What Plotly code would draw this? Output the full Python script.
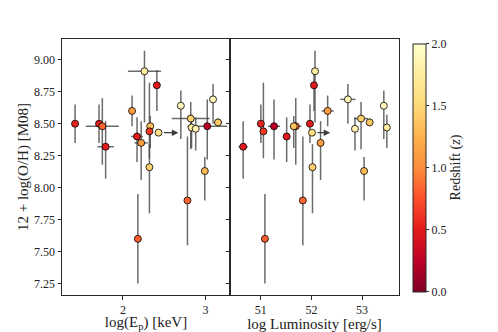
import plotly.graph_objects as go

# ---- data ----
oh      = [8.50, 8.50, 8.48, 8.32, 8.60, 8.91, 8.80, 8.40, 8.35, 8.48, 8.44, 8.16,
           8.43, 7.60, 8.64, 8.54, 8.47, 8.46, 8.48, 8.69, 8.51, 8.13, 7.90]
oh_up   = [0.15, 0.15, 0.22, 0.20, 0.12, 0.16, 0.12, 0.15, 0.17, 0.08, 0.38, 0.18,
           0.00, 0.35, 0.12, 0.13, 0.10, 0.09, 0.21, 0.12, 0.03, 0.11, 0.50]
oh_lo   = [0.15, 0.15, 0.30, 0.25, 0.12, 0.40, 0.20, 0.20, 0.29, 0.17, 0.21, 0.36,
           0.00, 0.35, 0.26, 0.24, 0.16, 0.17, 0.26, 0.19, 0.03, 0.23, 0.35]
redshift = [0.55, 0.50, 0.85, 0.50, 1.10, 1.75, 0.50, 0.50, 1.10, 1.35, 0.65, 1.45,
            1.60, 0.80, 1.90, 1.45, 1.75, 1.85, 0.25, 1.90, 1.40, 1.30, 0.85]
log_ep   = [1.42, 1.71, 1.75, 1.79, 2.11, 2.26, 2.41, 2.17, 2.22, 2.33, 2.32, 2.32,
            2.43, 2.18, 2.70, 2.82, 2.83, 2.88, 3.02, 3.09, 3.15, 2.99, 2.78]
log_ep_err = [0.04, 0.03, 0.20, 0.10, 0.00, 0.20, 0.00, 0.07, 0.08, 0.00, 0.00, 0.00,
              0.00, 0.00, 0.00, 0.23, 0.00, 0.00, 0.24, 0.00, 0.05, 0.00, 0.00]
log_lum  = [51.00, 51.97, 51.69, 50.65, 52.32, 52.07, 52.05, 51.51, 52.18, 51.65, 51.05, 52.02,
            52.01, 51.08, 53.43, 52.98, 53.49, 52.86, 51.26, 52.72, 53.15, 53.04, 51.83]
log_lum_err = [0.03, 0.00, 0.11, 0.09, 0.12, 0.00, 0.00, 0.00, 0.00, 0.05, 0.00, 0.00,
               0.00, 0.00, 0.00, 0.14, 0.05, 0.05, 0.12, 0.15, 0.00, 0.00, 0.00]
# lower limits (arrows) : index and arrow length in each axis
limit_idx = [12]
limit_len_ep = [0.24]
limit_len_lum = [0.36]

y_tickvals = [7.25, 7.50, 7.75, 8.00, 8.25, 8.50, 8.75, 9.00]
ep_ticks = [2, 3]
lum_ticks = [51, 52, 53]
z_ticks = [0, 0.5, 1.0, 1.5, 2.0]

scale = [[0, 'rgb(128,0,38)'], [0.125, 'rgb(189,0,38)'], [0.25, 'rgb(227,26,28)'],
         [0.375, 'rgb(252,78,42)'], [0.5, 'rgb(253,141,60)'], [0.625, 'rgb(254,178,76)'],
         [0.75, 'rgb(254,217,118)'], [0.875, 'rgb(255,237,160)'], [1, 'rgb(255,255,204)']]

FONT = "Liberation Serif"
ERRC = 'rgba(70,70,70,0.8)'
LINEC = 'rgb(40,40,40)'

def trace(x, xerr, xa, ya):
    return go.Scatter(
        x=x, y=oh, xaxis=xa, yaxis=ya, mode='markers',
        marker=dict(color=redshift, coloraxis='coloraxis', size=7,
                    line=dict(color='black', width=0.8)),
        error_y=dict(type='data', array=oh_up, arrayminus=oh_lo, color=ERRC,
                     thickness=1.5, width=0),
        error_x=dict(type='data', array=xerr, color=ERRC, thickness=1.5, width=0),
        showlegend=False, hoverinfo='skip')

fig = go.Figure()
fig.add_trace(trace(log_ep, log_ep_err, 'x', 'y'))
fig.add_trace(trace(log_lum, log_lum_err, 'x2', 'y2'))

for k, i in enumerate(limit_idx):
    for xs, ln, xr, yr in [(log_ep, limit_len_ep, 'x', 'y'), (log_lum, limit_len_lum, 'x2', 'y2')]:
        fig.add_annotation(x=xs[i] + ln[k], y=oh[i], ax=xs[i], ay=oh[i],
                           xref=xr, yref=yr, axref=xr, ayref=yr, text='',
                           showarrow=True, arrowhead=2, arrowsize=1, arrowwidth=1.3,
                           arrowcolor='rgb(60,60,60)', startstandoff=4)

# page has an 8px body margin -> lay out in shifted coordinates
OFF = 8
W, H = 498 - OFF, 332 - OFF
L, R, T, B = 62 - OFF, 399 - OFF, 39 - OFF, 295 - OFF
PW, PH = R - L, B - T
xsplit = (230 - 62) / PW

axis_common = dict(showline=True, linecolor=LINEC, linewidth=1, mirror=True,
                   ticks='outside', ticklen=3.5, tickcolor=LINEC, showgrid=False,
                   zeroline=False, automargin=False,
                   tickfont=dict(family=FONT, size=12, color='#222'))

fig.update_layout(
    width=W, height=H, margin=dict(l=L, r=W - R, t=T, b=H - B, autoexpand=False),
    paper_bgcolor='white', plot_bgcolor='white',
    font=dict(family=FONT, color='#222'),
    xaxis=dict(domain=[0, xsplit], range=[1.262, 3.295], tickvals=ep_ticks,
               title=dict(text='log(E<sub>p</sub>) [keV]', font=dict(size=15), standoff=5),
               anchor='y', **axis_common),
    yaxis=dict(domain=[0, 1], range=[7.161, 9.162], tickvals=y_tickvals,
               tickformat='.2f', anchor='x',
               title=dict(text='12 + log(O/H) [M08]', font=dict(size=15), standoff=1),
               **axis_common),
    xaxis2=dict(domain=[xsplit, 1], range=[50.39, 53.73], tickvals=lum_ticks,
                title=dict(text='log Luminosity [erg/s]', font=dict(size=15), standoff=3),
                anchor='y2', **axis_common),
    yaxis2=dict(domain=[0, 1], range=[7.161, 9.162], tickvals=y_tickvals,
                showticklabels=False, anchor='x2', **axis_common),
    coloraxis=dict(colorscale=scale, cmin=0, cmax=2,
                   colorbar=dict(x=(413.3 - 62) / PW, xanchor='left', xpad=0, ypad=0,
                                 y=(295 - 167.5) / PH, yanchor='middle', len=248.4 / PH,
                                 lenmode='fraction', thickness=12.7, thicknessmode='pixels',
                                 outlinecolor=LINEC, outlinewidth=1,
                                 tickvals=z_ticks, tickformat='.1f',
                                 ticks='outside', ticklen=3, tickcolor=LINEC,
                                 tickfont=dict(family=FONT, size=12, color='#222'),
                                 title=dict(text='Redshift (<i>z</i>)', side='right',
                                            font=dict(family=FONT, size=14)))),
)

fig.write_html("out.html")
